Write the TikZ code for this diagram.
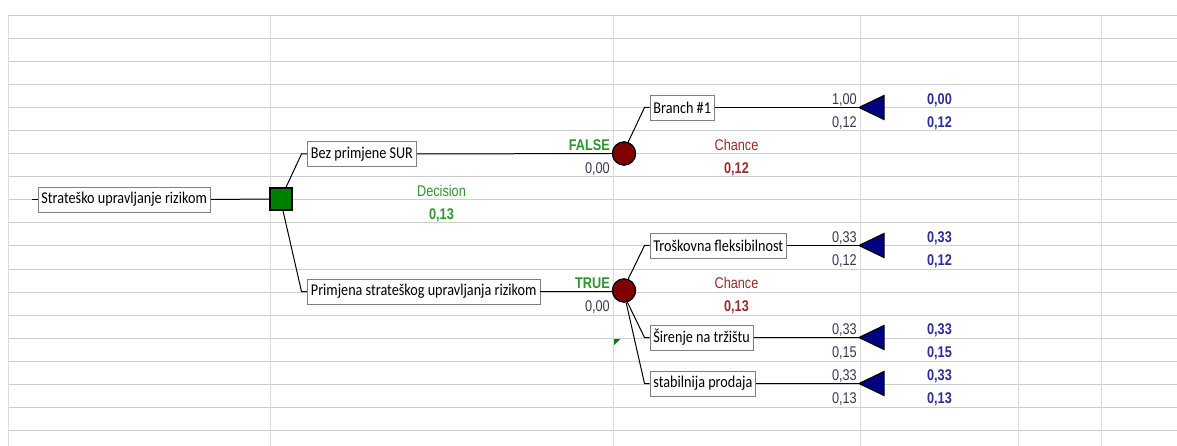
\documentclass[tikz,border=0pt]{standalone}
\usepackage{fontspec}
\newfontfamily\boxfont[FakeStretch=0.86]{Carlito}
\newfontfamily\numfont[FakeStretch=0.82]{Liberation Sans}
\definecolor{hgridc}{RGB}{206,206,206}
\definecolor{vgridc}{RGB}{218,218,218}
\definecolor{boxgray}{RGB}{128,128,128}
\definecolor{decgreen}{RGB}{0,128,0}
\definecolor{chred}{RGB}{128,0,0}
\definecolor{endnavy}{RGB}{0,0,128}
\definecolor{txtgreen}{RGB}{45,150,45}
\definecolor{txtred}{RGB}{150,45,45}
\definecolor{txtblue}{RGB}{45,45,150}
\definecolor{txtgray}{RGB}{55,55,85}
\begin{document}
\begin{tikzpicture}[x=1pt,y=-1pt,
  hgrid/.style={draw=hgridc,line width=1pt},
  vgrid/.style={draw=vgridc,line width=1pt},
  tbox/.style={draw=boxgray,fill=white,line width=0.9pt,anchor=west,
    font=\boxfont\fontsize{16.5}{18}\selectfont,inner xsep=3.5pt,inner ysep=0pt,
    minimum height=25pt,text=black},
  decnode/.style={rectangle,draw=black,fill=decgreen,line width=1.5pt,
    minimum size=22pt,inner sep=0pt},
  chnode/.style={circle,draw=black,fill=chred,line width=1.2pt,
    minimum size=23pt,inner sep=0pt},
  endtri/.style={draw=black,fill=endnavy,line width=1.1pt,line join=miter},
  conn/.style={draw=black,line width=1pt},
  num/.style={font=\numfont\fontsize{15.5}{17}\selectfont,inner sep=0pt,text=txtgray},
  bnum/.style={num,font=\numfont\bfseries\fontsize{15.5}{17}\selectfont},
]
\useasboundingbox (0,0) rectangle (1177,446);
\fill[white] (0,0) rectangle (1177,446);
% grid
\foreach \k in {0,...,18} \draw[hgrid] (8,16+23*\k) -- (1177,16+23*\k);
\foreach \x in {8,270,613,860,1018,1101} \draw[vgrid] (\x,16) -- (\x,446);

% nodes
\node[tbox] (root) at (37.5,199.5) {Strateško upravljanje rizikom};
\node[decnode] (sq) at (281,199) {};
\node[tbox] (bez) at (307,154) {Bez primjene SUR};
\node[tbox] (prim) at (307,291.5) {Primjena strateškog upravljanja rizikom};
\node[chnode] (c1) at (624,153.5) {};
\node[chnode] (c2) at (624,290.5) {};
\node[tbox] (br1) at (649.5,107.5) {Branch \#1};
\node[tbox] (tros) at (649.5,245.5) {Troškovna fleksibilnost};
\node[tbox] (sir) at (649.5,337.5) {Širenje na tržištu};
\node[tbox] (stab) at (649.5,383.5) {stabilnija prodaja};

% coordinates
\coordinate (rt) at (32,199.5);
\coordinate (ebez) at (301.5,154);
\coordinate (eprim) at (301.5,291.5);
\coordinate (ebr1) at (644.5,107.5);
\coordinate (etros) at (644.5,245.5);
\coordinate (esir) at (644.5,337.5);
\coordinate (estab) at (644.5,383.5);
\coordinate (t1) at (859,107.5);
\coordinate (t2) at (859,245.5);
\coordinate (t3) at (859,337.5);
\coordinate (t4) at (859,383.5);

% connectors
\draw[conn] (rt) -- (root.west);
\draw[conn] (root.east) -- (sq.west);
\draw[conn] ([xshift=5pt]sq.north) -- (ebez) -- (bez.west);
\draw[conn] ([xshift=2pt]sq.south) -- (eprim) -- (prim.west);
\draw[conn] (bez.east) -- (c1.west);
\draw[conn] (prim.east) -- (prim.east -| c2.west);
\draw[conn] (c1.70) -- (ebr1) -- (br1.west);
\draw[conn] (c2.70) -- (etros) -- (tros.west);
\draw[conn] (c2.-74) -- (esir) -- (sir.west);
\draw[conn] (c2.-80) -- (estab) -- (stab.west);
\draw[conn] (br1.east) -- (t1);
\draw[conn] (tros.east) -- (t2);
\draw[conn] (sir.east) -- (t3);
\draw[conn] (stab.east) -- (t4);
% redraw circles on top of connector ends
\node[chnode] at (c1) {};
\node[chnode] at (c2) {};
\node[decnode] at (sq) {};

% end triangles
\foreach \t in {t1,t2,t3,t4}
  \draw[endtri] (\t) -- ++(25,-12) -- ++(0,24) -- cycle;

% small green marker
\fill[decgreen] (614,339) -- (620.5,339) -- (614,345) -- cycle;

% texts
\node[bnum,text=txtgreen,anchor=base east] (fl) at (610,150.5) {FALSE};
\node[num,anchor=base east] (fv) at (610,173.5) {0,00};
\node[bnum,text=txtgreen,anchor=base east] (tr) at (610,288.5) {TRUE};
\node[num,anchor=base east] (tv) at (610,311.5) {0,00};

\node[num,text=txtgreen,anchor=base] (dl) at (441.5,196.5) {Decision};
\node[bnum,text=txtgreen,anchor=base] (dv) at (441.5,219.5) {0,13};

\node[num,text=txtred,anchor=base] (ch1) at (736.5,150.5) {Chance};
\node[bnum,text=txtred,anchor=base] (ch1v) at (736.5,173.5) {0,12};
\node[num,text=txtred,anchor=base] (ch2) at (736.5,288.5) {Chance};
\node[bnum,text=txtred,anchor=base] (ch2v) at (736.5,311.5) {0,13};

\node[num,anchor=base east] (p1) at (857,104.5) {1,00};
\node[num,anchor=base east] (q1) at (857,127.5) {0,12};
\node[num,anchor=base east] (p2) at (857,242.5) {0,33};
\node[num,anchor=base east] (q2) at (857,265.5) {0,12};
\node[num,anchor=base east] (p3) at (857,334.5) {0,33};
\node[num,anchor=base east] (q3) at (857,357.5) {0,15};
\node[num,anchor=base east] (p4) at (857,380.5) {0,33};
\node[num,anchor=base east] (q4) at (857,403.5) {0,13};

\node[bnum,text=txtblue,anchor=base] (v1) at (939.5,104.5) {0,00};
\node[bnum,text=txtblue,anchor=base] (w1) at (939.5,127.5) {0,12};
\node[bnum,text=txtblue,anchor=base] (v2) at (939.5,242.5) {0,33};
\node[bnum,text=txtblue,anchor=base] (w2) at (939.5,265.5) {0,12};
\node[bnum,text=txtblue,anchor=base] (v3) at (939.5,334.5) {0,33};
\node[bnum,text=txtblue,anchor=base] (w3) at (939.5,357.5) {0,15};
\node[bnum,text=txtblue,anchor=base] (v4) at (939.5,380.5) {0,33};
\node[bnum,text=txtblue,anchor=base] (w4) at (939.5,403.5) {0,13};
\end{tikzpicture}
\end{document}
